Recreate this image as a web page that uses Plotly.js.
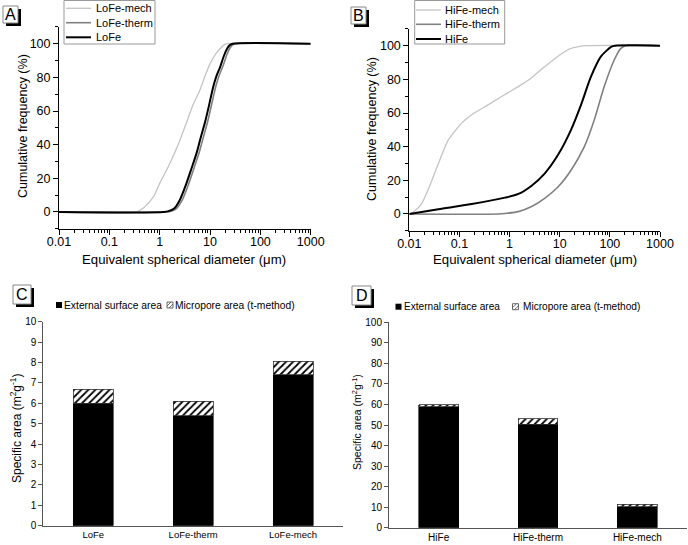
<!DOCTYPE html>
<html>
<head>
<meta charset="utf-8">
<script src="https://cdn.plot.ly/plotly-3.0.1.min.js"></script>
<style>html,body{margin:0;padding:0;background:#fff}#chart{width:688px;height:545px}</style>
</head>
<body>
<div id="chart"></div>
<script>
// ---- Panel A: LoFe particle size distributions (diameter in µm, cumulative %) ----
const loMechX = [0.01, 0.35, 0.5, 0.75, 1, 1.6, 2.4, 3.4, 4.5, 6.3, 8, 10, 13, 15.8, 19, 22, 1000];
const loMechY = [0, 0, 3, 9, 17, 29, 41, 53, 63, 72.5, 81, 88, 94, 97, 99.3, 100, 100];
const loThermX = [0.01, 1.35, 1.7, 2.15, 2.8, 3.8, 4.8, 6.05, 7.3, 8.85, 10.6, 13, 15.1, 17.7, 21.3, 24.4, 28, 31.5, 1000];
const loThermY = [0, 0, 0.5, 2, 7, 17, 26, 35, 44, 53, 63, 74.5, 81, 86, 93, 97, 99.3, 100, 100];
const loFeX = [0.01, 1.2, 1.5, 1.93, 2.5, 3.4, 4.3, 5.4, 6.5, 7.9, 9.5, 11.6, 13.5, 15.8, 19, 21.8, 25, 28, 1000];
const loFeY = [0, 0, 0.5, 2, 7, 17, 26, 35, 44, 53, 63, 74.5, 81, 86, 93, 97, 99.3, 100, 100];

// ---- Panel B: HiFe particle size distributions ----
const hiMechX = [0.01, 0.0125, 0.0177, 0.025, 0.038, 0.06, 0.085, 0.11, 0.176, 0.38, 0.81, 1.75, 2.75, 5, 11, 17, 23.6, 35, 1000];
const hiMechY = [0, 1.5, 6.3, 16, 30, 44, 50, 54, 59, 65, 71, 77, 81, 87.5, 95.4, 98.5, 99.4, 100, 100];
const hiThermX = [0.01, 0.6, 0.81, 1.5, 2.75, 5, 9.2, 16.8, 31, 49, 77, 122, 166, 207, 1000];
const hiThermY = [0, 0, 0.3, 1.4, 4.4, 9.3, 16, 26, 40, 56, 75.6, 91.5, 98.4, 100, 100];
const hiFeX = [0.01, 0.038, 0.176, 0.81, 1.5, 2.75, 5, 9.2, 16.8, 26.7, 42, 66, 108, 127, 1000];
const hiFeY = [0, 2.8, 5.9, 9.7, 11.9, 16.8, 24, 35, 50, 65, 81.6, 93.5, 99.4, 100, 100];

// ---- Panels C, D: specific areas (m2/g) ----
const loCats = ["LoFe", "LoFe-therm", "LoFe-mech"];
const loExternal = [6.0, 5.4, 7.4];
const loMicropore = [0.7, 0.7, 0.65];
const hiCats = ["HiFe", "HiFe-therm", "HiFe-mech"];
const hiExternal = [59, 50.3, 10.2];
const hiMicropore = [0.8, 2.8, 1.2];

// ---- tick labels and texts ----
const logTickVals = [0.01, 0.1, 1, 10, 100, 1000];
const logTickText = ["0.01", "0.1", "1", "10", "100", "1000"];
const cumTickVals = [0, 20, 40, 60, 80, 100];
const cumMinorVals = [-10, 10, 30, 50, 70, 90, 110];
const panelLetters = ["A", "B", "C", "D"];
const loNames = ["LoFe-mech", "LoFe-therm", "LoFe"];
const hiNames = ["HiFe-mech", "HiFe-therm", "HiFe"];
const barNames = ["External surface area", "Micropore area (t-method)"];
const xTitle = "Equivalent spherical diameter (\u03bcm)";
const yTitleCum = "Cumulative frequency (%)";
const yTitleArea = "Specific area (m<sup>2</sup>g<sup>-1</sup>)";

const W = 688, H = 545;
const px = v => v / W;
const py = v => 1 - v / H;
const logMinor = [];
for (let e = -2; e < 3; e++) for (let m = 2; m <= 9; m++) logMinor.push(m * Math.pow(10, e));
const FONT = "Liberation Sans, Arial, sans-serif";
const cMech = "#c4c4c4", cTherm = "#808080", cBase = "#000000";
const lineColors = [cMech, cTherm, cBase];
const lineWidths = [1.3, 1.6, 2];

function line(x, y, name, i, xa, ya) {
  return {type: "scatter", mode: "lines", x: x, y: y, name: name, xaxis: xa, yaxis: ya, showlegend: false,
    line: {color: lineColors[i], width: lineWidths[i], shape: "spline", smoothing: 0.8}, hoverinfo: "skip"};
}
const traces = [
  line(loMechX, loMechY, loNames[0], 0, "x", "y"),
  line(loThermX, loThermY, loNames[1], 1, "x", "y"),
  line(loFeX, loFeY, loNames[2], 2, "x", "y"),
  line(hiMechX, hiMechY, hiNames[0], 0, "x2", "y2"),
  line(hiThermX, hiThermY, hiNames[1], 1, "x2", "y2"),
  line(hiFeX, hiFeY, hiNames[2], 2, "x2", "y2"),
];
function bars(cats, ext, mic, xa, ya) {
  return [
    {type: "bar", x: cats, y: ext, name: barNames[0], xaxis: xa, yaxis: ya, showlegend: false,
      width: 0.4, marker: {color: "#000", line: {color: "#000", width: 0.6}}},
    {type: "bar", x: cats, y: mic, name: barNames[1], xaxis: xa, yaxis: ya, showlegend: false,
      width: 0.4, marker: {color: "#fff", line: {color: "#333", width: 0.8},
        pattern: {shape: "/", fgcolor: "#000", bgcolor: "#fff", size: 5, solidity: 0.35}}}
  ];
}
traces.push(...bars(loCats, loExternal, loMicropore, "x3", "y3"));
traces.push(...bars(hiCats, hiExternal, hiMicropore, "x4", "y4"));

function logAxis(dom, anchor) {
  return {type: "log", range: [-2, 3], domain: dom, anchor: anchor, automargin: false,
    showline: true, linecolor: "#000", linewidth: 1,
    ticks: "outside", ticklen: 5, tickwidth: 1, tickcolor: "#000", ticklabelstandoff: -4,
    tickmode: "array", tickvals: logTickVals, ticktext: logTickText,
    minor: {tickmode: "array", tickvals: logMinor, ticks: "outside", ticklen: 3, tickcolor: "#000", showgrid: false},
    showgrid: false, zeroline: false,
    tickfont: {family: FONT, size: 12.5, color: "#000"}};
}
function cumAxis(dom, anchor) {
  return {range: [-10, 110], domain: dom, anchor: anchor, automargin: false,
    showline: true, linecolor: "#000", linewidth: 1,
    ticks: "outside", ticklen: 5, tickcolor: "#000",
    tickmode: "array", tickvals: cumTickVals,
    minor: {tickmode: "array", tickvals: cumMinorVals, ticks: "outside", ticklen: 3, tickcolor: "#000", showgrid: false},
    showgrid: false, zeroline: false,
    tickfont: {family: FONT, size: 12.5, color: "#000"}};
}
function catAxis(dom, anchor, fs) {
  return {type: "category", domain: dom, anchor: anchor, range: [-0.5, 2.5], automargin: false,
    showline: true, linecolor: "#555", linewidth: 1, ticks: "", showgrid: false, zeroline: false,
    tickfont: {family: FONT, size: fs, color: "#000"}};
}
function areaAxis(dom, anchor, max, step) {
  return {range: [0, max], domain: dom, anchor: anchor, dtick: step, tick0: 0, automargin: false,
    showline: true, linecolor: "#555", linewidth: 1, ticks: "outside", ticklen: 4, tickcolor: "#555",
    showgrid: false, zeroline: false,
    tickfont: {family: FONT, size: 10, color: "#000"}};
}

const shapes = [], annotations = [];
function text(x, y, t, size, opts) {
  annotations.push(Object.assign({xref: "paper", yref: "paper", x: px(x), y: py(y), text: t, showarrow: false,
    font: {family: FONT, size: size, color: "#000"}, xanchor: "left", yanchor: "middle"}, opts || {}));
}
function rect(x0, y0, x1, y1, fill, lc, lw) {
  shapes.push({type: "rect", xref: "paper", yref: "paper", x0: px(x0), x1: px(x1), y0: py(y1), y1: py(y0),
    fillcolor: fill, line: {color: lc || fill, width: lw === undefined ? 0 : lw}});
}
function seg(x0, y0, x1, y1, color, width) {
  shapes.push({type: "line", xref: "paper", yref: "paper", x0: px(x0), x1: px(x1), y0: py(y0), y1: py(y1),
    line: {color: color, width: width}});
}

// panel letters (boxed with a drop shadow)
const boxes = [[3, 6, 18, 23], [351, 7, 366, 24], [13, 285, 31, 304], [352, 286, 371, 305]];
boxes.forEach((b, i) => {
  rect(b[0] + 3, b[1] + 3, b[2] + 3, b[3] + 3, "#000");
  rect(b[0], b[1], b[2], b[3], "#fff", "#888", 1);
  text((b[0] + b[2]) / 2, (b[1] + b[3]) / 2, panelLetters[i], 16, {xanchor: "center"});
});

// legends of panels A and B
function lineLegend(x0, x1, y1, rows, lx0, lx1, tx, names) {
  rect(x0, 0.5, x1, y1, "#fff", "#999", 1);
  names.forEach((n, i) => {
    seg(lx0, rows[i], lx1, rows[i], lineColors[i], lineWidths[i]);
    text(tx, rows[i], n, 11);
  });
}
lineLegend(64, 155, 44, [8.3, 22.7, 37.3], 66, 91, 94, loNames);
lineLegend(414.7, 504.7, 44, [10, 24.3, 39], 416, 441, 443, hiNames);

// legends of panels C and D
function barLegend(s1, t1, s2, t2, yc, fs) {
  rect(s1, yc - 3, s1 + 6, yc + 3, "#000");
  text(t1, yc, barNames[0], fs);
  rect(s2, yc - 3, s2 + 6, yc + 3, "#fff", "#444", 0.8);
  seg(s2, yc + 1, s2 + 4, yc - 3, "#444", 0.8);
  seg(s2 + 2, yc + 3, s2 + 6, yc - 1, "#444", 0.8);
  text(t2, yc, barNames[1], fs);
}
barLegend(56, 62, 167, 172.5, 305, 10.3);
barLegend(395.5, 402, 512.5, 520.5, 306.7, 10.1);

// axis titles
text(184.5, 259, xTitle, 13.2, {xanchor: "center"});
text(534.5, 259, xTitle, 13.2, {xanchor: "center"});
text(23, 126, yTitleCum, 12.5, {xanchor: "center", textangle: -90});
text(372, 129, yTitleCum, 12.5, {xanchor: "center", textangle: -90});
text(16, 428, yTitleArea, 12, {xanchor: "center", textangle: -90});
text(356, 422, yTitleArea, 10.5, {xanchor: "center", textangle: -90});

const layout = {
  width: W, height: H, margin: {l: 0, r: 0, t: 0, b: 0, autoexpand: false},
  paper_bgcolor: "#fff", plot_bgcolor: "rgba(0,0,0,0)", barmode: "stack", showlegend: false,
  font: {family: FONT, color: "#000"},
  xaxis: logAxis([px(59), px(310.7)], "y"),
  yaxis: cumAxis([py(228.8), py(26.9)], "x"),
  xaxis2: logAxis([px(409.3), px(660)], "y2"),
  yaxis2: cumAxis([py(230.8), py(28.9)], "x2"),
  xaxis3: catAxis([px(43.3), px(343)], "y3", 9.5),
  yaxis3: areaAxis([py(525.7), py(321.7)], "x3", 10, 1),
  xaxis4: catAxis([px(389), px(687)], "y4", 10),
  yaxis4: areaAxis([py(527.7), py(322.3)], "x4", 100, 10),
  shapes: shapes, annotations: annotations
};
Plotly.newPlot("chart", traces, layout, {staticPlot: true, displayModeBar: false});
</script>
</body>
</html>
